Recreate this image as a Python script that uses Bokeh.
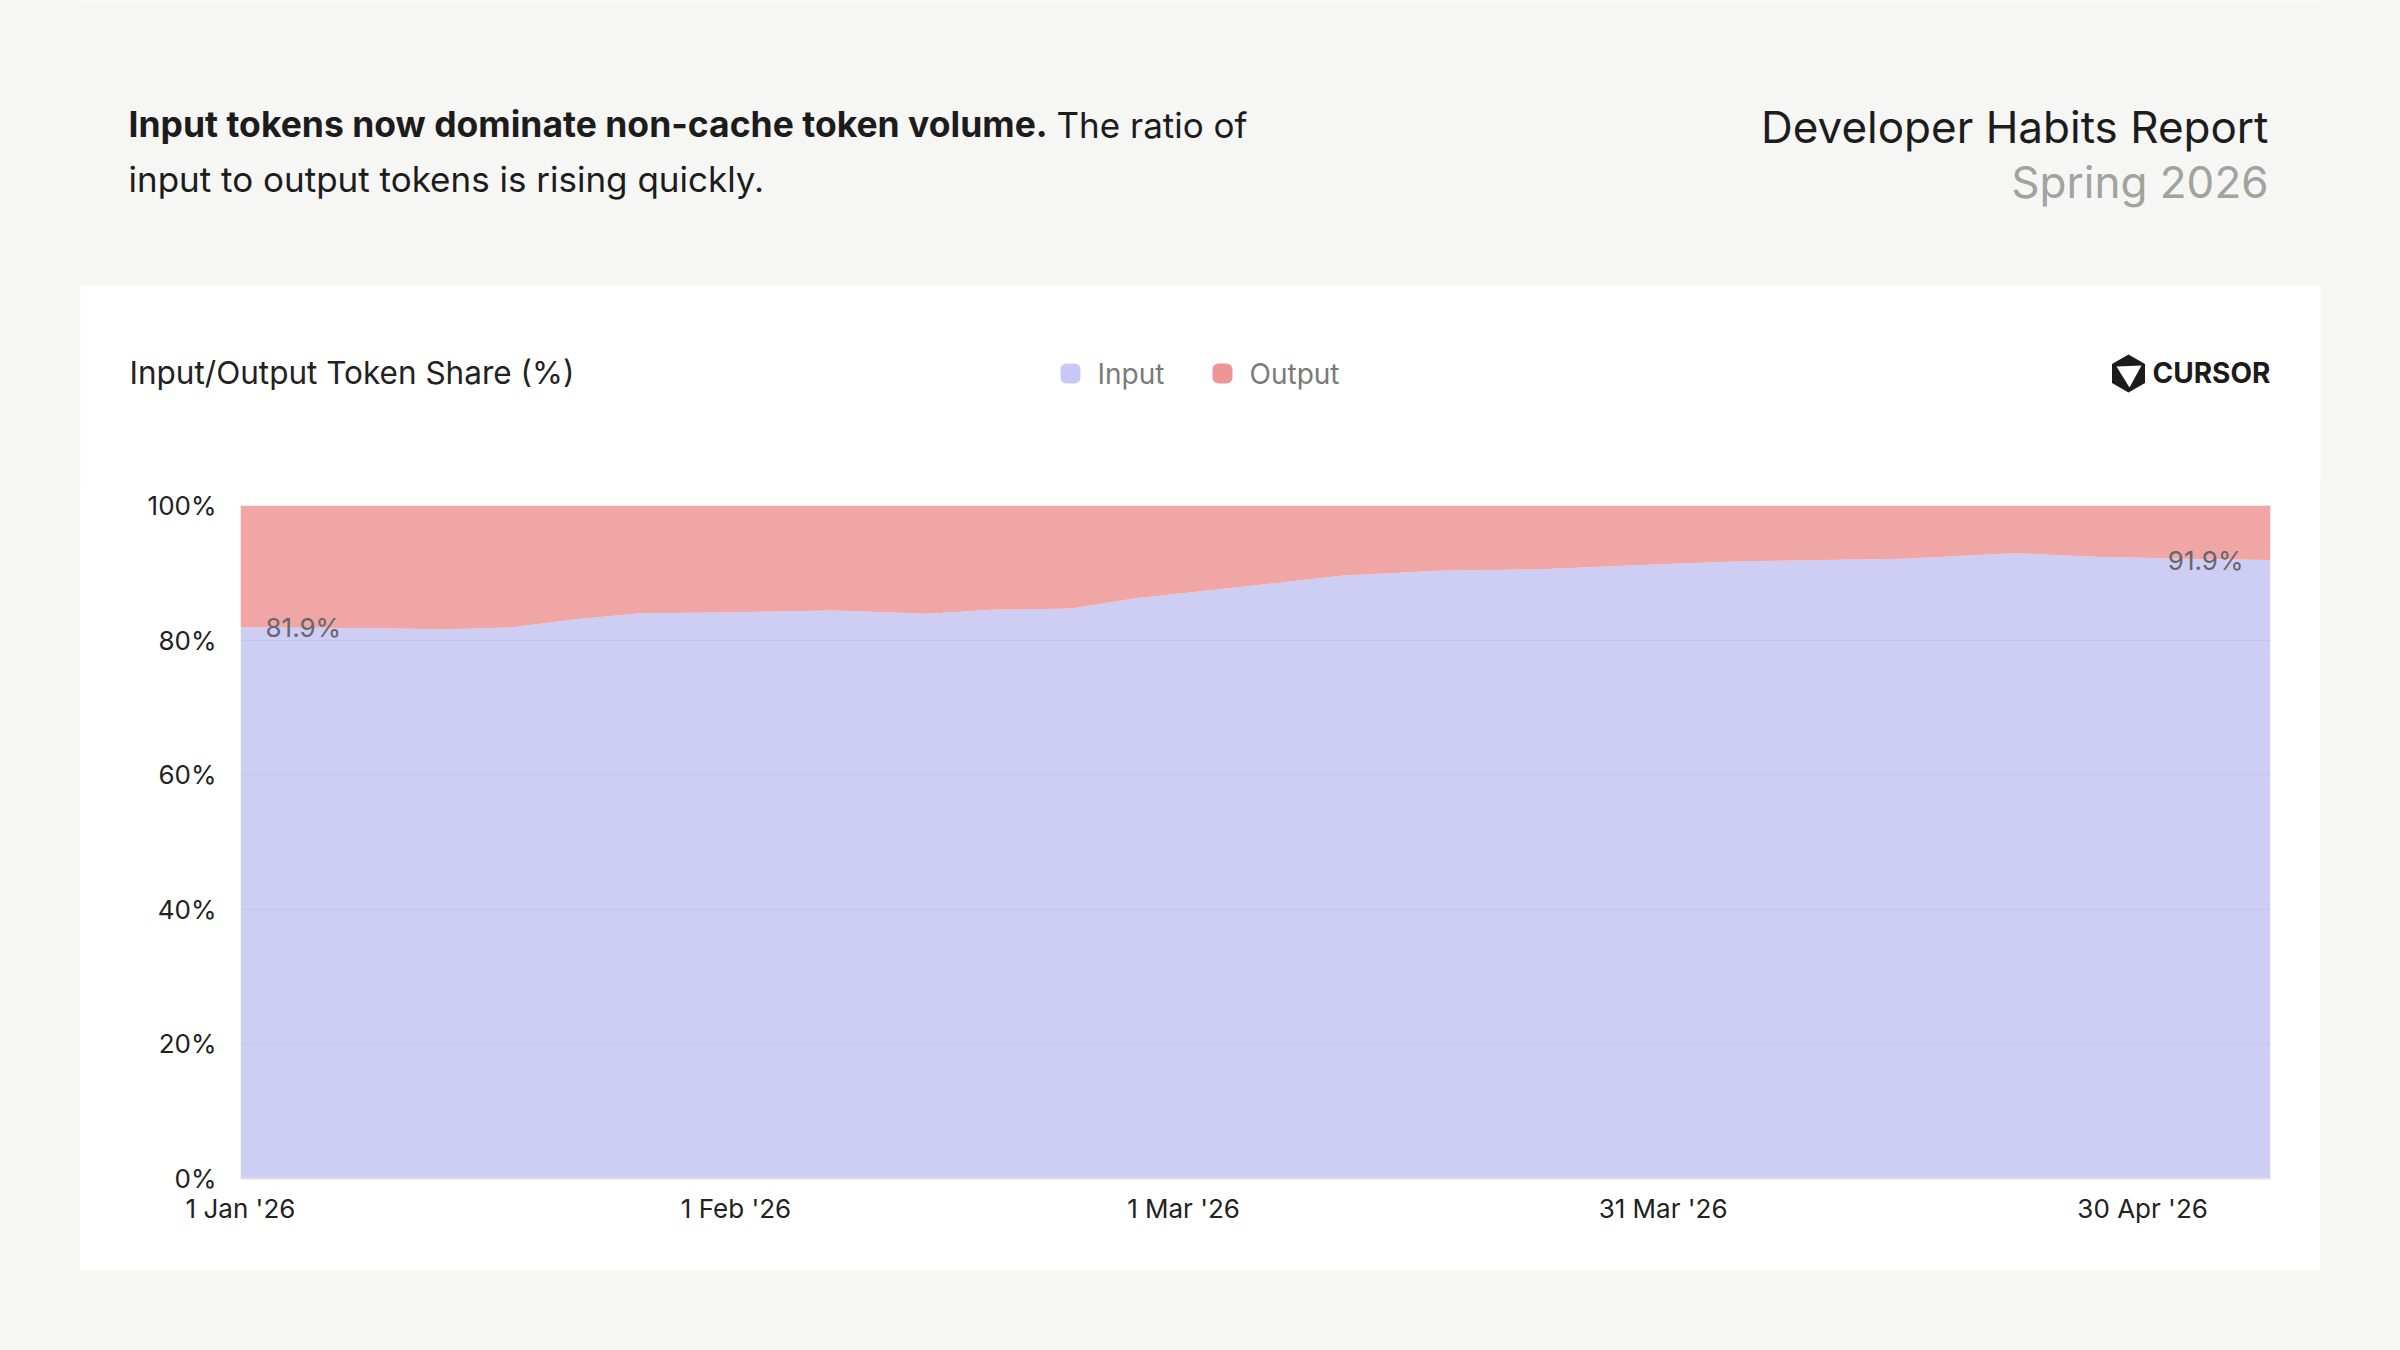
import pandas as pd
from bokeh.plotting import figure
from bokeh.layouts import column, row
from bokeh.models import ColumnDataSource, Range1d, FixedTicker
from bokeh.core.properties import value
from bokeh.embed import file_html
from bokeh.resources import INLINE

# ---------------- data ----------------
dates = ["2026-01-01", "2026-01-08", "2026-01-14", "2026-01-18", "2026-01-22",
         "2026-01-26", "2026-01-31", "2026-02-07", "2026-02-13", "2026-02-17",
         "2026-02-22", "2026-02-26", "2026-03-05", "2026-03-11", "2026-03-17",
         "2026-03-23", "2026-03-30", "2026-04-05", "2026-04-15", "2026-04-22",
         "2026-04-27", "2026-05-04", "2026-05-08"]
input_share = [81.9, 81.8, 81.6, 81.9, 83.1, 84.0, 84.1, 84.4, 83.9, 84.5,
               84.7, 86.2, 88.0, 89.6, 90.3, 90.5, 91.2, 91.7, 92.1, 92.9,
               92.4, 92.0, 91.9]
output_share = [round(100 - v, 1) for v in input_share]

tick_dates = ["2026-01-01", "2026-02-01", "2026-03-01", "2026-03-31", "2026-04-30"]
tick_labels = ["1 Jan '26", "1 Feb '26", "1 Mar '26", "31 Mar '26", "30 Apr '26"]
y_ticks = [0, 20, 40, 60, 80, 100]
y_labels = ["0%", "20%", "40%", "60%", "80%", "100%"]

series_names = ["Input", "Output"]
series_colors = ["#cecdf3", "#f0a6a5"]
legend_colors = ["#c9c7f5", "#ec9796"]

headline_bold = "Input tokens now dominate non-cache token volume."
headline_rest_1 = "The ratio of"
headline_rest_2 = "input to output tokens is rising quickly."
report_title = "Developer Habits Report"
report_sub = "Spring 2026"
chart_title = "Input/Output Token Share (%)"
brand = "CURSOR"

FONT = "Inter"
PAGE_BG = "#f6f6f4"
CARD_BG_CSS = ("linear-gradient(to right, #f6f6f4 0px, #f6f6f4 80px, #ffffff 80px, "
               "#ffffff 2320px, #f6f6f4 2320px, #f6f6f4 2400px)")


# ---------------- helpers ----------------
def blank(w, h, bg, xr, yr):
    f = figure(width=w, height=h, output_backend="svg", toolbar_location=None,
               x_range=Range1d(*xr), y_range=Range1d(*yr),
               x_axis_location=None, y_axis_location=None, min_border=0)
    f.background_fill_color = bg
    f.border_fill_color = bg
    f.outline_line_color = None
    f.xgrid.visible = False
    f.ygrid.visible = False
    return f


def txt(f, x, baseline, s, size, color, align="left", style="normal"):
    # text is placed by its middle; shift from the wanted baseline
    f.text(x=[x], y=[baseline - 0.37 * size], text=[s], text_font=value(FONT),
           text_font_size=f"{size}px", text_color=color, text_align=align,
           text_baseline="middle", text_font_style=style)


# ---------------- page header + card header ----------------
HEAD_H = 485
head = blank(2400, HEAD_H, PAGE_BG, (0, 2400), (HEAD_H, 0))
# top part of the white card
head.quad(left=[80], right=[2320], top=[285], bottom=[HEAD_H + 2],
          fill_color="white", line_color=None)

txt(head, 128, 137, headline_bold, 35.5, "#1c1c1c", style="bold")
txt(head, 1056, 137, headline_rest_1, 35, "#1c1c1c")
txt(head, 128, 191, headline_rest_2, 35, "#1c1c1c")
txt(head, 2268, 143, report_title, 44, "#1c1c1c", align="right")
txt(head, 2268, 198, report_sub, 44, "#a2a29e", align="right")

txt(head, 129, 384, chart_title, 31.5, "#222222")

leg_x = [1070, 1222]
head.quad(left=[x - 10 for x in leg_x], right=[x + 10 for x in leg_x],
          top=[363, 363], bottom=[383, 383], fill_color=legend_colors,
          line_color=None, border_radius=6)
for i, name in enumerate(series_names):
    txt(head, leg_x[i] + 27, 384, name, 28, "#7a7a7a")

hx, hy, r = 2128, 373, 19
head.patch(x=[hx, hx + 16.5, hx + 16.5, hx, hx - 16.5, hx - 16.5],
           y=[hy - r, hy - 9.5, hy + 9.5, hy + r, hy + 9.5, hy - 9.5],
           fill_color="#1b1b1b", line_color=None)
head.patch(x=[hx - 12, hx + 13, hx + 1], y=[hy - 7, hy - 8, hy + 14],
           fill_color="white", line_color=None)
txt(head, 2152, 383, brand, 28, "#1b1b1b", style="bold")

# ---------------- chart ----------------
start = pd.Timestamp(dates[0])
days = [(pd.Timestamp(d) - start).days for d in dates]
tick_days = [(pd.Timestamp(d) - start).days for d in tick_dates]
n = len(days)
src = ColumnDataSource(dict(day=days, inp=input_share, out=output_share,
                            zero=[0] * n, full=[100] * n))

p = figure(width=2240, height=785, output_backend="svg", toolbar_location=None,
           x_range=Range1d(days[0], days[-1]), y_range=Range1d(0, 100),
           min_border_left=160, min_border_right=50,
           min_border_top=20, min_border_bottom=92)
p.border_fill_color = "white"
p.background_fill_color = "white"
p.outline_line_color = None

p.varea(x="day", y1="zero", y2="inp", source=src, fill_color=series_colors[0])
p.varea(x="day", y1="inp", y2="full", source=src, fill_color=series_colors[1])

p.text(x=[days[0]], y=[input_share[0]], text=[f"{input_share[0]}%"],
       x_offset=25, text_align="left", text_baseline="middle",
       text_font=value(FONT), text_font_size="26px", text_color="#66666f")
p.text(x=[days[-1]], y=[input_share[-1]], text=[f"{input_share[-1]}%"],
       x_offset=-27, text_align="right", text_baseline="middle",
       text_font=value(FONT), text_font_size="26px", text_color="#66666f")

p.xaxis.ticker = FixedTicker(ticks=tick_days)
p.xaxis.major_label_overrides = dict(zip(tick_days, tick_labels))
p.xaxis.major_label_text_font = FONT
p.xaxis.major_label_text_font_size = "26px"
p.xaxis.major_label_text_color = "#222222"
p.xaxis.major_label_standoff = 14
p.xaxis.major_tick_line_color = None
p.xaxis.minor_tick_line_color = None
p.xaxis.major_tick_out = 0
p.xaxis.major_tick_in = 0
p.xaxis.axis_line_color = "#dedede"
p.xaxis.axis_line_width = 2

p.yaxis.ticker = FixedTicker(ticks=y_ticks)
p.yaxis.major_label_overrides = dict(zip(y_ticks, y_labels))
p.yaxis.major_label_text_font = FONT
p.yaxis.major_label_text_font_size = "26px"
p.yaxis.major_label_text_color = "#222222"
p.yaxis.major_label_standoff = 24
p.yaxis.major_tick_line_color = None
p.yaxis.minor_tick_line_color = None
p.yaxis.major_tick_out = 0
p.yaxis.major_tick_in = 0
p.yaxis.axis_line_color = None

p.xgrid.visible = False
p.ygrid.ticker = FixedTicker(ticks=y_ticks)
p.ygrid.grid_line_color = "#b4b4cc"
p.ygrid.grid_line_alpha = 0.25
p.ygrid.level = "overlay"

# ---------------- page assembly ----------------
side_l = blank(80, 785, PAGE_BG, (0, 1), (0, 1))
side_r = blank(80, 785, PAGE_BG, (0, 1), (0, 1))
foot = blank(2400, 80, PAGE_BG, (0, 1), (0, 1))

middle = row(side_l, p, side_r, spacing=0, styles={"background": CARD_BG_CSS})
page = column(head, middle, foot, spacing=0, styles={"background": CARD_BG_CSS})

open("out.html", "w").write(file_html(page, INLINE))
